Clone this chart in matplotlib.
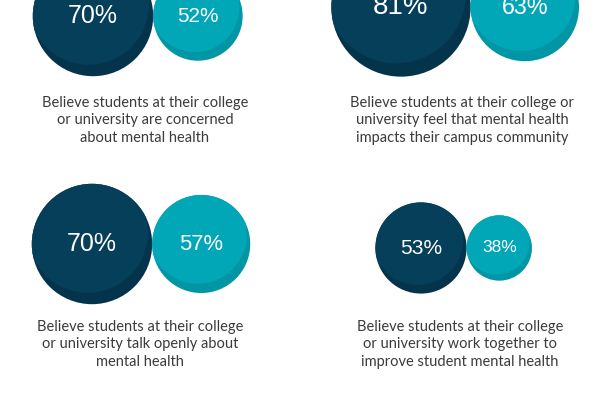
import matplotlib.pyplot as plt
from matplotlib.patches import Circle

# survey values: dark = first group, light = second group
dark_values = [70, 81, 70, 53]
light_values = [52, 63, 57, 38]
labels = [
    'Believe students at their college\nor university are concerned\nabout mental health',
    'Believe students at their college or\nuniversity feel that mental health\nimpacts their campus community',
    'Believe students at their college\nor university talk openly about\nmental health',
    'Believe students at their college\nor university work together to\nimprove student mental health',
]

# layout (pixel coords of the dark bubble centre, top of label block)
centers = [(93, 16), (401, 7), (92, 244), (421, 248)]
label_pos = [(145, 96), (462, 96), (140, 320), (460, 320)]

dark_main, dark_shade = '#063f5a', '#03344b'
light_main, light_shade = '#01a6b7', '#0096a6'
scale = 0.86

fig = plt.figure(figsize=(6, 4), dpi=100)
ax = fig.add_axes([0, 0, 1, 1])
ax.set_xlim(0, 600)
ax.set_ylim(400, 0)
ax.set_aspect('equal')
ax.axis('off')


def bubble(x, y, r, main, shade, txt):
    base = Circle((x, y), r, facecolor=shade, edgecolor='none')
    ax.add_patch(base)
    # lighter face shifted up-left leaves a darker crescent bottom-right
    top = Circle((x - 0.07 * r, y - 0.19 * r), r, facecolor=main, edgecolor='none')
    ax.add_patch(top)
    top.set_clip_path(base)
    ax.text(x, y, txt, color='white', ha='center', va='center',
            fontsize=6 + 0.2 * r, family='Liberation Sans')


for i in range(4):
    cx, cy = centers[i]
    rd = dark_values[i] * scale
    rl = light_values[i] * scale
    bubble(cx, cy, rd, dark_main, dark_shade, f'{dark_values[i]}%')
    bubble(cx + rd + rl, cy, rl, light_main, light_shade, f'{light_values[i]}%')
    lx, ly = label_pos[i]
    ax.text(lx, ly, labels[i], ha='center', va='top', color='#3b3b3b',
            fontsize=10.5, family='Lato', linespacing=1.3)

fig.savefig('out.png', dpi=100, facecolor='white')
